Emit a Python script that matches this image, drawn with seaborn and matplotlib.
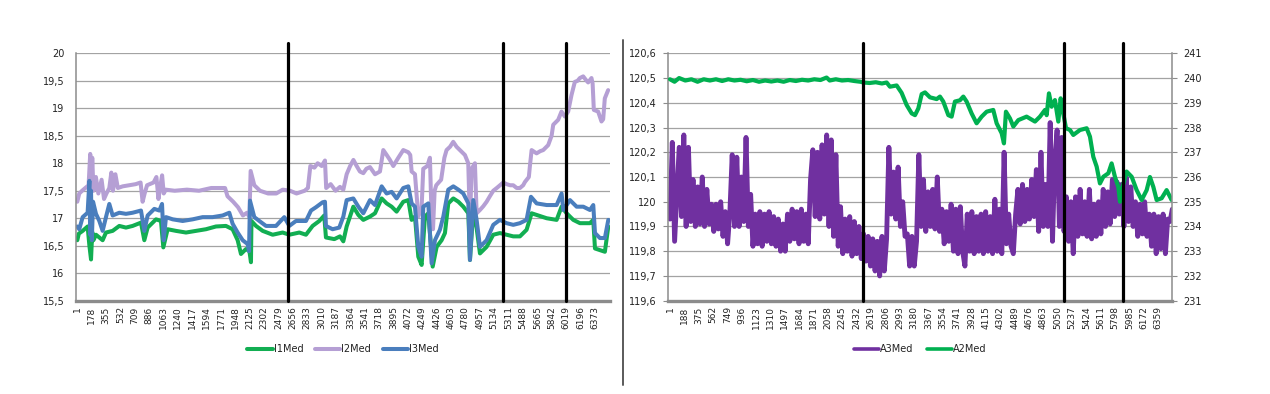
import numpy as np
import pandas as pd
import matplotlib
matplotlib.use("Agg")
import matplotlib.pyplot as plt
from matplotlib.lines import Line2D
from matplotlib.ticker import FuncFormatter
import seaborn as sns


# ---- data: (sample index, value) ----
I1_PTS = [(1, 16.6), (20, 16.72), (67, 16.77), (128, 16.85), (150, 16.5), (170, 16.25), (185, 16.75),
          (200, 16.6), (231, 16.7), (272, 16.65), (313, 16.6), (354, 16.74), (436, 16.77), (518, 16.86),
          (600, 16.83), (682, 16.86), (785, 16.92), (826, 16.6), (867, 16.83), (970, 16.98), (1031, 16.95),
          (1060, 16.47), (1113, 16.8), (1216, 16.77), (1339, 16.74), (1462, 16.77), (1585, 16.8),
          (1708, 16.85), (1831, 16.86), (1913, 16.8), (1975, 16.6), (2016, 16.35), (2078, 16.44),
          (2120, 16.4), (2139, 16.2), (2145, 16.95), (2201, 16.86), (2283, 16.77), (2406, 16.7),
          (2529, 16.74), (2611, 16.7), (2734, 16.74), (2816, 16.7), (2898, 16.86), (2980, 16.95),
          (3041, 17.05), (3062, 16.65), (3165, 16.62), (3235, 16.67), (3276, 16.58), (3317, 16.85),
          (3399, 17.21), (3461, 17.06), (3522, 16.97), (3604, 17.03), (3666, 17.09), (3748, 17.36),
          (3809, 17.27), (3871, 17.21), (3932, 17.12), (4014, 17.3), (4076, 17.33), (4117, 16.97),
          (4158, 17.03), (4199, 16.3), (4240, 16.15), (4281, 17.03), (4322, 17.09), (4376, 16.12),
          (4425, 16.48), (4486, 16.6), (4527, 16.73), (4568, 17.27), (4630, 17.36), (4692, 17.3),
          (4753, 17.21), (4815, 17.09), (4835, 16.24), (4876, 17.15), (4917, 16.82), (4958, 16.36),
          (5040, 16.48), (5122, 16.7), (5204, 16.73), (5286, 16.7), (5368, 16.67), (5450, 16.67),
          (5532, 16.79), (5594, 17.09), (5656, 17.06), (5779, 17.0), (5902, 16.97), (5963, 17.21),
          (6025, 17.09), (6107, 16.97), (6189, 16.91), (6312, 16.91), (6353, 16.97), (6374, 16.45),
          (6435, 16.42), (6496, 16.39), (6538, 16.85)]

I2_PTS = [(1, 17.3), (25, 17.45), (60, 17.5), (100, 17.55), (140, 17.6), (160, 18.17), (175, 17.55),
          (185, 18.1), (200, 17.5), (230, 17.75), (260, 17.45), (300, 17.7), (330, 17.35), (360, 17.45),
          (395, 17.55), (420, 17.83), (440, 17.5), (470, 17.8), (500, 17.55), (560, 17.58), (640, 17.6),
          (720, 17.62), (780, 17.65), (805, 17.3), (830, 17.45), (860, 17.6), (940, 17.65), (975, 17.75),
          (1000, 17.35), (1020, 17.55), (1045, 17.78), (1065, 17.45), (1090, 17.52), (1200, 17.5),
          (1350, 17.52), (1500, 17.5), (1650, 17.55), (1820, 17.55), (1850, 17.4), (1920, 17.3),
          (1980, 17.2), (2040, 17.05), (2090, 17.1), (2120, 17.02), (2135, 17.86), (2180, 17.6),
          (2250, 17.5), (2350, 17.45), (2450, 17.45), (2530, 17.52), (2620, 17.5), (2700, 17.45),
          (2800, 17.5), (2840, 17.55), (2870, 17.95), (2920, 17.92), (2960, 18.0), (3010, 17.95),
          (3050, 18.05), (3065, 17.55), (3120, 17.62), (3180, 17.5), (3235, 17.57), (3276, 17.52),
          (3317, 17.8), (3360, 17.95), (3400, 18.06), (3440, 17.95), (3480, 17.85), (3522, 17.82),
          (3560, 17.9), (3604, 17.93), (3666, 17.8), (3727, 17.85), (3768, 18.24), (3810, 18.15),
          (3850, 18.06), (3891, 17.95), (3953, 18.1), (4014, 18.24), (4076, 18.2), (4100, 18.15),
          (4117, 17.85), (4158, 17.8), (4199, 17.03), (4240, 17.2), (4260, 17.9), (4310, 17.95),
          (4342, 18.1), (4363, 17.0), (4380, 16.8), (4400, 17.5), (4420, 17.6), (4480, 17.7),
          (4520, 18.1), (4547, 18.24), (4590, 18.3), (4629, 18.39), (4670, 18.3), (4711, 18.24),
          (4773, 18.15), (4814, 18.0), (4835, 16.9), (4855, 17.9), (4896, 18.0), (4917, 17.09),
          (4958, 17.15), (5000, 17.22), (5040, 17.3), (5080, 17.4), (5122, 17.5), (5165, 17.55),
          (5204, 17.6), (5245, 17.65), (5286, 17.62), (5330, 17.6), (5368, 17.6), (5410, 17.55),
          (5450, 17.55), (5490, 17.6), (5512, 17.66), (5560, 17.75), (5573, 17.95), (5594, 18.24),
          (5655, 18.18), (5700, 18.22), (5737, 18.24), (5798, 18.33), (5840, 18.5), (5860, 18.7),
          (5921, 18.79), (5962, 18.94), (6003, 18.85), (6044, 18.94), (6085, 19.24), (6126, 19.48),
          (6160, 19.5), (6188, 19.55), (6229, 19.58), (6260, 19.52), (6290, 19.47), (6331, 19.55),
          (6345, 19.45), (6360, 18.97), (6413, 18.94), (6454, 18.76), (6475, 18.8), (6495, 19.18),
          (6536, 19.33)]

I3_PTS = [(1, 16.85), (25, 16.8), (67, 17.02), (128, 17.1), (150, 17.68), (160, 16.7), (170, 17.5),
          (180, 16.6), (195, 17.3), (231, 17.08), (272, 16.95), (313, 16.77), (354, 17.02), (395, 17.26),
          (436, 17.05), (518, 17.1), (600, 17.08), (682, 17.1), (785, 17.14), (826, 16.77), (867, 17.05),
          (949, 17.17), (1011, 17.14), (1044, 17.26), (1064, 16.6), (1093, 17.02), (1175, 16.98),
          (1298, 16.95), (1421, 16.98), (1544, 17.02), (1667, 17.02), (1790, 17.05), (1872, 17.1),
          (1913, 16.9), (1975, 16.74), (2037, 16.6), (2098, 16.53), (2115, 16.4), (2127, 17.32),
          (2180, 17.02), (2242, 16.95), (2324, 16.86), (2447, 16.86), (2549, 17.02), (2611, 16.86),
          (2693, 16.95), (2816, 16.95), (2878, 17.14), (2939, 17.2), (3021, 17.29), (3050, 17.3),
          (3062, 16.86), (3144, 16.8), (3226, 16.83), (3276, 17.03), (3317, 17.33), (3399, 17.36),
          (3461, 17.21), (3522, 17.09), (3604, 17.33), (3666, 17.24), (3748, 17.58), (3809, 17.45),
          (3871, 17.48), (3932, 17.36), (4014, 17.55), (4076, 17.58), (4117, 17.27), (4158, 17.21),
          (4199, 16.48), (4240, 16.3), (4260, 17.21), (4322, 17.27), (4363, 16.18), (4404, 16.6),
          (4465, 16.79), (4507, 17.03), (4568, 17.52), (4630, 17.58), (4692, 17.52), (4753, 17.45),
          (4815, 17.27), (4835, 16.24), (4876, 17.33), (4917, 16.97), (4958, 16.48), (5040, 16.6),
          (5122, 16.88), (5204, 16.97), (5286, 16.91), (5368, 16.88), (5450, 16.91), (5532, 16.97),
          (5586, 17.39), (5656, 17.27), (5779, 17.24), (5902, 17.24), (5963, 17.45), (5984, 17.15),
          (6066, 17.33), (6148, 17.21), (6230, 17.21), (6312, 17.15), (6353, 17.24), (6374, 16.73),
          (6435, 16.64), (6496, 16.64), (6538, 16.97)]

# A3Med sampled every 30th row (rows 1, 31, 61, ... 6541), highs/lows of the noisy band
A3_FIRST_ROW, A3_ROW_STEP = 1, 30
A3_VAL = [
    119.93, 120.24, 119.84, 120.03, 120.22, 119.94, 120.27, 119.90, 120.22, 119.92,
    120.09, 119.90, 120.06, 119.91, 120.10, 119.90, 120.05, 119.91, 119.99, 119.88,
    119.99, 119.89, 120.00, 119.86, 119.96, 119.83, 119.96, 120.19, 119.90, 120.18,
    119.90, 120.10, 119.92, 120.26, 119.90, 120.03, 119.82, 119.95, 119.83, 119.96,
    119.82, 119.95, 119.84, 119.96, 119.83, 119.94, 119.82, 119.93, 119.80, 119.91,
    119.80, 119.95, 119.84, 119.97, 119.85, 119.96, 119.83, 119.97, 119.84, 119.95,
    119.83, 120.09, 120.21, 119.94, 120.20, 119.93, 120.23, 119.95, 120.27, 119.90,
    120.25, 119.86, 120.19, 119.82, 119.98, 119.79, 119.93, 119.80, 119.94, 119.78,
    119.92, 119.79, 119.90, 119.77, 119.87, 119.76, 119.86, 119.74, 119.85, 119.72,
    119.84, 119.70, 119.86, 119.72, 119.85, 120.22, 119.95, 120.12, 119.93, 120.14,
    119.90, 120.00, 119.86, 119.87, 119.74, 119.86, 119.74, 119.84, 120.19, 119.90,
    120.09, 119.88, 120.04, 119.90, 120.05, 119.89, 120.10, 119.88, 119.97, 119.83,
    119.96, 119.84, 119.99, 119.80, 119.97, 119.79, 119.98, 119.80, 119.74, 119.95,
    119.80, 119.96, 119.79, 119.94, 119.80, 119.95, 119.79, 119.96, 119.80, 119.94,
    119.79, 120.01, 119.80, 119.97, 119.79, 120.20, 119.83, 119.95, 119.82, 119.79,
    119.95, 120.05, 119.91, 120.07, 119.92, 120.05, 119.93, 120.09, 119.94, 120.13,
    119.88, 120.20, 119.90, 120.07, 119.90, 120.32, 119.84, 120.17, 120.29, 119.90,
    120.26, 119.88, 120.02, 119.84, 120.00, 119.79, 120.02, 119.86, 120.05, 119.87,
    120.00, 119.86, 120.05, 119.85, 119.99, 119.86, 120.00, 119.87, 120.05, 119.90,
    120.04, 119.91, 120.09, 119.94, 120.08, 119.95, 120.07, 119.90, 120.10, 119.92,
    120.06, 119.90, 120.00, 119.86, 119.99, 119.87, 120.00, 119.86, 119.95, 119.82,
    119.95, 119.79, 119.94, 119.81, 119.95, 119.79, 119.93, 119.92, 119.97,
]

A2_PTS = [(1, 239.95), (60, 239.85), (120, 240.0), (200, 239.9), (280, 239.95), (360, 239.85),
          (440, 239.95), (520, 239.9), (600, 239.95), (680, 239.88), (760, 239.95), (840, 239.9),
          (920, 239.93), (1000, 239.87), (1080, 239.92), (1160, 239.85), (1240, 239.9), (1320, 239.86),
          (1400, 239.9), (1480, 239.85), (1560, 239.92), (1640, 239.88), (1720, 239.93), (1800, 239.9),
          (1880, 239.95), (1960, 239.92), (2040, 240.02), (2080, 239.9), (2160, 239.95), (2240, 239.9),
          (2320, 239.92), (2400, 239.88), (2480, 239.85), (2518, 239.82), (2600, 239.8), (2680, 239.83),
          (2760, 239.78), (2822, 239.82), (2865, 239.65), (2952, 239.7), (3017, 239.4), (3082, 238.91),
          (3148, 238.57), (3191, 238.5), (3234, 238.77), (3278, 239.35), (3321, 239.42), (3386, 239.22),
          (3473, 239.15), (3516, 239.25), (3559, 239.05), (3625, 238.5), (3668, 238.44), (3711, 239.05),
          (3776, 239.1), (3820, 239.25), (3863, 239.05), (3928, 238.57), (3993, 238.17), (4059, 238.44),
          (4124, 238.64), (4210, 238.71), (4254, 238.17), (4319, 237.77), (4349, 237.36), (4375, 238.64),
          (4427, 238.37), (4471, 238.04), (4536, 238.3), (4644, 238.44), (4753, 238.24), (4818, 238.44),
          (4883, 238.71), (4905, 238.5), (4935, 239.38), (4970, 238.84), (5013, 239.11), (5057, 238.24),
          (5087, 239.18), (5113, 238.71), (5157, 237.97), (5209, 237.9), (5252, 237.7), (5339, 237.9),
          (5426, 237.97), (5469, 237.63), (5512, 236.82), (5556, 236.42), (5599, 235.74), (5643, 236.01),
          (5708, 236.15), (5751, 236.55), (5794, 236.01), (5838, 235.6), (5860, 235.0), (5894, 235.6),
          (5946, 236.22), (6012, 236.01), (6077, 235.47), (6142, 235.07), (6207, 235.47), (6250, 236.0),
          (6294, 235.6), (6337, 235.07), (6402, 235.14), (6467, 235.47), (6532, 235.07)]

# black marker lines drawn over the charts (row positions)
LEFT_MARKS = [2600, 5237, 6013]
RIGHT_MARKS = [2518, 5127, 5899]

LEFT_XTICKS = list(range(1, 6374, 177))
RIGHT_XTICKS = list(range(1, 6360, 187))

I1_COLOR = "#12AE52"
I2_COLOR = "#B59FD4"
I3_COLOR = "#4A7EBD"
A3_COLOR = "#7030A0"
A2_COLOR = "#00B050"
GRID = "#a3a3a3"
AXIS = "#8c8c8c"
TXT = "#222222"


def comma_fmt(v, _pos):
    s = f"{v:.1f}"
    if s.endswith(".0"):
        s = s[:-2]
    return s.replace(".", ",")


def to_df(pts):
    return pd.DataFrame(pts, columns=["row", "value"])


def excel_axis(ax, xticks, xlim):
    ax.set_xlim(*xlim)
    ax.set_xticks(xticks)
    ax.set_xticklabels([str(t) for t in xticks], rotation=90, fontsize=6.5, color=TXT)
    ax.tick_params(axis="x", length=0, pad=4)
    ax.tick_params(axis="y", length=3.3, width=0.8, color=AXIS, labelsize=7, labelcolor=TXT, pad=5)
    ax.yaxis.set_major_formatter(FuncFormatter(comma_fmt))
    ax.yaxis.grid(True, color=GRID, lw=0.9)
    ax.xaxis.grid(False)
    ax.set_axisbelow(True)
    for side in ("top", "right"):
        ax.spines[side].set_visible(False)
    ax.spines["left"].set_color(AXIS)
    ax.spines["left"].set_linewidth(1.1)
    ax.spines["bottom"].set_color(AXIS)
    ax.spines["bottom"].set_linewidth(2.4)
    ax.set_xlabel("")
    ax.set_ylabel("")


def main() -> None:
    sns.set_theme(style="white")
    plt.rcParams.update({"font.family": ["DejaVu Sans"], "axes.facecolor": "white"})

    fig = plt.figure(figsize=(12.7, 3.94), dpi=100)
    W, H = 1270.0, 394.0
    bottom = 1 - 300.7 / H
    height = 247.4 / H
    axL = fig.add_axes([76 / W, bottom, 534 / W, height])
    axR = fig.add_axes([668.3 / W, bottom, 503.7 / W, height])

    # left chart
    sns.lineplot(data=to_df(I1_PTS), x="row", y="value", ax=axL, color=I1_COLOR, lw=2.9, label="I1Med")
    sns.lineplot(data=to_df(I2_PTS), x="row", y="value", ax=axL, color=I2_COLOR, lw=2.9, label="I2Med")
    sns.lineplot(data=to_df(I3_PTS), x="row", y="value", ax=axL, color=I3_COLOR, lw=2.9, label="I3Med")
    excel_axis(axL, LEFT_XTICKS, (-15, 6559))
    axL.set_ylim(15.5, 20)
    axL.set_yticks(np.arange(15.5, 20.01, 0.5))
    for m in LEFT_MARKS:
        axL.axvline(m, ymin=0, ymax=1.04, color="black", lw=2.3, clip_on=False, zorder=6)
    h, l = axL.get_legend_handles_labels()
    axL.legend(h, l, loc="center", bbox_to_anchor=(0.5, -0.195), ncol=3, frameon=False,
               fontsize=7, handlelength=2.6, handletextpad=0.1, columnspacing=1.2, labelcolor=TXT)

    # right chart with secondary axis
    a3 = pd.DataFrame({"row": np.arange(len(A3_VAL)) * A3_ROW_STEP + A3_FIRST_ROW, "value": A3_VAL})
    sns.lineplot(data=a3, x="row", y="value", ax=axR, color=A3_COLOR, lw=3.5, label="A3Med")
    excel_axis(axR, RIGHT_XTICKS, (-21, 6537))
    axR.set_ylim(119.6, 120.6)
    axR.set_yticks(np.arange(119.6, 120.61, 0.1))
    if axR.get_legend() is not None:
        axR.get_legend().remove()

    axR2 = axR.twinx()
    sns.lineplot(data=to_df(A2_PTS), x="row", y="value", ax=axR2, color=A2_COLOR, lw=3.0, label="A2Med")
    axR2.set_ylim(231, 241)
    axR2.set_yticks(range(231, 242))
    axR2.grid(False)
    axR2.set_ylabel("")
    for side in ("top", "left", "bottom"):
        axR2.spines[side].set_visible(False)
    axR2.spines["right"].set_color(AXIS)
    axR2.spines["right"].set_linewidth(1.1)
    axR2.tick_params(axis="y", length=3.3, width=0.8, color=AXIS, labelsize=7, labelcolor=TXT, pad=5)
    for m in RIGHT_MARKS:
        axR2.axvline(m, ymin=0, ymax=1.04, color="black", lw=2.3, clip_on=False, zorder=6)

    h1, l1 = axR.get_legend_handles_labels()
    h2, l2 = axR2.get_legend_handles_labels()
    leg = axR2.legend(h1 + h2, l1 + l2, loc="center", bbox_to_anchor=(0.5, -0.195), ncol=2, frameon=False,
                      fontsize=7, handlelength=2.6, handletextpad=0.1, columnspacing=1.4, labelcolor=TXT)
    for lh in leg.get_lines():
        lh.set_linewidth(2.6)

    # divider between the two chart objects
    fig.add_artist(Line2D([622.5 / W, 622.5 / W], [1 - 40 / H, 1 - 385 / H], color="#5a5a5a", lw=1.4))

    fig.savefig("out.png", dpi=100, facecolor="white")
    plt.close(fig)


if __name__ == "__main__":
    main()
